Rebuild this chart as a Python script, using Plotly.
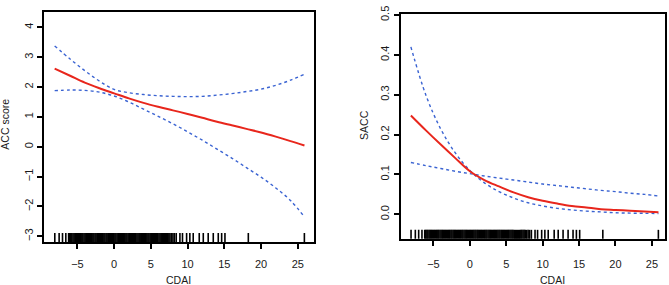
import plotly.graph_objects as go

# ---------------- data ----------------
cdai_grid = [-8.1, -6, -4, -2, 0, 2, 4, 6, 8, 10, 12, 14, 16, 18, 20, 22, 24, 25.9]

acc_fit = [2.62, 2.38, 2.15, 1.96, 1.79, 1.62, 1.47, 1.34, 1.22, 1.10, 0.97, 0.84, 0.72, 0.60, 0.48, 0.34, 0.19, 0.04]
acc_upper = [3.38, 2.94, 2.55, 2.20, 1.92, 1.81, 1.75, 1.71, 1.69, 1.68, 1.69, 1.73, 1.78, 1.85, 1.93, 2.06, 2.23, 2.43]
acc_lower = [1.88, 1.90, 1.89, 1.83, 1.70, 1.50, 1.26, 1.02, 0.77, 0.50, 0.22, -0.08, -0.38, -0.70, -1.02, -1.38, -1.80, -2.35]

sacc_fit = [0.248, 0.210, 0.175, 0.141, 0.108, 0.086, 0.070, 0.055, 0.043, 0.034, 0.027, 0.021, 0.017, 0.013, 0.011, 0.009, 0.007, 0.005]
sacc_ci_a = [0.420, 0.297, 0.214, 0.154, 0.110, 0.079, 0.057, 0.041, 0.029, 0.021, 0.015, 0.011, 0.008, 0.006, 0.004, 0.003, 0.0025, 0.002]
sacc_ci_b = [0.130, 0.122, 0.115, 0.108, 0.102, 0.096, 0.091, 0.086, 0.081, 0.076, 0.072, 0.068, 0.064, 0.060, 0.057, 0.053, 0.050, 0.046]

rug_cdai = [-8.08, -7.49, -7.03, -6.58,
            -6.2, -6.05, -5.9, -5.76, -5.6, -5.45, -5.3, -5.16, -5.0, -4.86, -4.7, -4.55, -4.4, -4.26,
            -4.1, -3.95, -3.8, -3.66, -3.5, -3.36, -3.2, -3.05, -2.9, -2.76, -2.6, -2.46, -2.3, -2.15,
            -2.0, -1.86, -1.7, -1.55, -1.4, -1.26, -1.1, -0.96, -0.8, -0.65, -0.5, -0.36, -0.2, -0.05,
            0.1, 0.24, 0.4, 0.55, 0.7, 0.84, 1.0, 1.14, 1.3, 1.45, 1.6, 1.74, 1.9, 2.05, 2.2, 2.34,
            2.5, 2.65, 2.8, 2.94, 3.1, 3.25, 3.4, 3.54, 3.7, 3.85, 4.0, 4.14, 4.3, 4.45, 4.6, 4.74,
            4.9, 5.05, 5.2, 5.34, 5.5, 5.65, 5.8, 5.94, 6.1, 6.25, 6.4, 6.54, 6.7, 6.85, 7.0, 7.14,
            7.3, 7.45, 7.6, 7.8, 8.0, 8.2, 8.45,
            8.95, 9.3, 9.86, 10.3, 10.76, 11.58, 12.13, 12.8, 13.49, 14.17, 14.63, 15.08, 18.26, 25.89]

x_ticks = [-5, 0, 5, 10, 15, 20, 25]
acc_ticks = [-3, -2, -1, 0, 1, 2, 3, 4]
sacc_ticks = [0.0, 0.1, 0.2, 0.3, 0.4, 0.5]
sacc_tick_text = ["0.0", "0.1", "0.2", "0.3", "0.4", "0.5"]

# ---------------- styling ----------------
W, H = 669, 285
RED = "#e8261c"
BLUE = "#3a63d2"
FONT = "Liberation Sans, Arial, sans-serif"
TXT = "#1a1a1a"

fig = go.Figure()

def add_panel(xa, ya, fit, ci1, ci2):
    fig.add_trace(go.Scatter(x=cdai_grid, y=ci1, mode="lines", xaxis=xa, yaxis=ya,
                             line=dict(color=BLUE, width=1.4, dash="dot", shape="spline")))
    fig.add_trace(go.Scatter(x=cdai_grid, y=ci2, mode="lines", xaxis=xa, yaxis=ya,
                             line=dict(color=BLUE, width=1.4, dash="dot", shape="spline")))
    fig.add_trace(go.Scatter(x=cdai_grid, y=fit, mode="lines", xaxis=xa, yaxis=ya,
                             line=dict(color=RED, width=2, shape="spline")))
    for v in rug_cdai:
        fig.add_shape(type="line", xref=xa, yref=ya + " domain", x0=v, x1=v, y0=0, y1=0.04,
                      line=dict(color="black", width=1.6))

add_panel("x", "y", acc_fit, acc_upper, acc_lower)
add_panel("x2", "y2", sacc_fit, sacc_ci_a, sacc_ci_b)

axis_common = dict(showline=True, linecolor="black", linewidth=2, mirror=True,
                   ticks="outside", ticklen=5, tickwidth=1.5, tickcolor="black",
                   showgrid=False, zeroline=False, ticklabeloverflow="allow",
                   tickfont=dict(family=FONT, size=11, color=TXT))

fig.update_layout(
    width=W, height=H, margin=dict(l=0, r=0, t=0, b=0),
    paper_bgcolor="white", plot_bgcolor="white", showlegend=False,
    xaxis=dict(domain=[44 / W, 314 / W], range=[-9.55, 27.2], tickvals=x_ticks,
               anchor="y", ticklabelstandoff=6, **axis_common),
    yaxis=dict(domain=[1 - 241 / H, 1 - 4 / H], range=[-3.2, 4.52], tickvals=acc_ticks,
               tickangle=-90, anchor="x", **axis_common),
    xaxis2=dict(domain=[400.7 / W, 665 / W], range=[-9.5, 26.8], tickvals=x_ticks,
                anchor="y2", ticklabelstandoff=9, **axis_common),
    yaxis2=dict(domain=[1 - 237.5 / H, 1 - 6 / H], range=[-0.0615, 0.503], tickvals=sacc_ticks,
                ticktext=sacc_tick_text, tickangle=-90, anchor="x2", **axis_common),
)

title_font = dict(family=FONT, size=10.5, color=TXT)
fig.add_annotation(text="ACC score", xref="paper", yref="paper", x=5 / W, y=1 - 120 / H,
                   textangle=-90, showarrow=False, font=title_font, xanchor="center", yanchor="middle")
fig.add_annotation(text="SACC", xref="paper", yref="paper", x=363.3 / W, y=1 - 120 / H,
                   textangle=-90, showarrow=False, font=title_font, xanchor="center", yanchor="middle")
fig.add_annotation(text="CDAI", xref="paper", yref="paper", x=178 / W, y=1 - 280 / H,
                   showarrow=False, font=title_font, xanchor="center", yanchor="middle")
fig.add_annotation(text="CDAI", xref="paper", yref="paper", x=552 / W, y=1 - 280 / H,
                   showarrow=False, font=title_font, xanchor="center", yanchor="middle")

fig.write_html("out.html", config={"displayModeBar": False},
               post_script="document.body.style.margin='0';document.body.style.padding='0';")
